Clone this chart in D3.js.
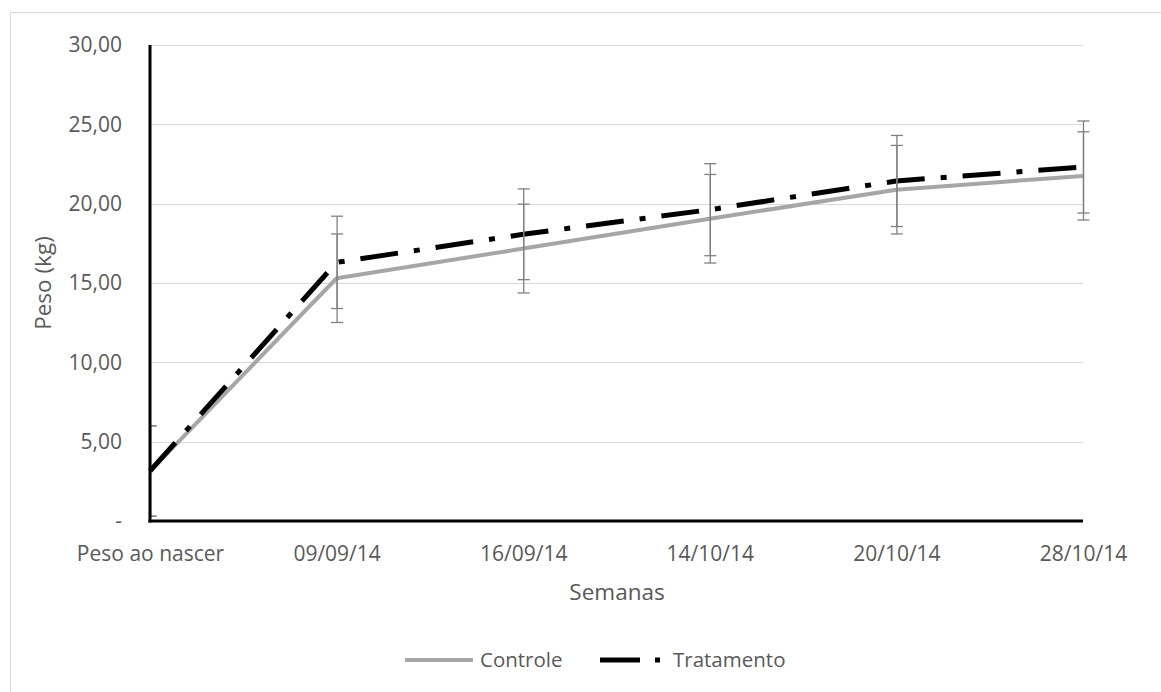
<!DOCTYPE html>
<html>
<head>
<meta charset="utf-8">
<script src="https://cdn.jsdelivr.net/npm/d3@7"></script>
<style>
  html, body { margin: 0; padding: 0; background: #fff; }
  svg { display: block; }
  text { font-family: "Open Sans", sans-serif; fill: #595959; }
</style>
</head>
<body>
<svg id="chart" width="1161" height="692"></svg>
<script>
const categories = ["Peso ao nascer", "09/09/14", "16/09/14", "14/10/14", "20/10/14", "28/10/14"];
const controle = [3.15, 15.30, 17.17, 19.05, 20.88, 21.75];
const tratamento = [3.15, 16.30, 18.07, 19.62, 21.43, 22.31];
const controleErr = [2.85, 2.79, 2.80, 2.79, 2.79, 2.78];
const tratamentoErr = [2.85, 2.91, 2.86, 2.90, 2.87, 2.90];
const yTicks = [0, 5, 10, 15, 20, 25, 30];
const seriesNames = ["Controle", "Tratamento"];

(function () {
const svg = d3.select("#chart");
const pLeft = 150, pRight = 1083, pTop = 45, pBottom = 521;

const x = d3.scalePoint().domain(categories).range([pLeft, pRight]).padding(0);
const y = d3.scaleLinear().domain([0, 30]).range([pBottom, pTop]);

const ptBR = d3.formatLocale({decimal: ",", thousands: ".", grouping: [3], currency: ["R$", ""]});
const fmt = ptBR.format(".2f");

// chart border
svg.append("rect").attr("x", 10.5).attr("y", 12.5).attr("width", 1200).attr("height", 800)
  .attr("fill", "none").attr("stroke", "#d9d9d9").attr("stroke-width", 1);

// gridlines
svg.append("g").selectAll("line").data(yTicks.filter(d => d > 0)).join("line")
  .attr("x1", pLeft).attr("x2", pRight)
  .attr("y1", d => Math.round(y(d)) + 0.5).attr("y2", d => Math.round(y(d)) + 0.5)
  .attr("stroke", "#d9d9d9").attr("stroke-width", 1);

// y axis labels
const yAxis = d3.axisLeft(y).tickValues(yTicks).tickSize(0).tickPadding(28)
  .tickFormat(d => d === 0 ? "-" : fmt(d));
const gy = svg.append("g").attr("transform", `translate(${pLeft},0)`).call(yAxis);
gy.select(".domain").remove();
gy.selectAll("text").attr("font-size", 21).attr("font-family", "Open Sans").attr("fill", "#595959");

// x axis labels
const xAxis = d3.axisBottom(x).tickSize(0).tickPadding(25);
const gx = svg.append("g").attr("transform", `translate(0,${pBottom})`).call(xAxis);
gx.select(".domain").remove();
gx.selectAll("text").attr("font-size", 21).attr("font-family", "Open Sans").attr("fill", "#595959");

// axis titles
svg.append("text").attr("x", 617).attr("y", 600).attr("text-anchor", "middle")
  .attr("font-size", 22.5).text("Semanas");
svg.append("text").attr("transform", "translate(51,283) rotate(-90)").attr("text-anchor", "middle")
  .attr("font-size", 22.5).text("Peso (kg)");

// clip for plot
svg.append("clipPath").attr("id", "plotclip").append("rect")
  .attr("x", pLeft).attr("y", 0).attr("width", pRight - pLeft + 20).attr("height", 692);

const line = d3.line().x((d, i) => x(categories[i])).y(d => y(d));

const plot = svg.append("g");

// series lines
plot.append("path").datum(controle).attr("d", line)
  .attr("fill", "none").attr("stroke", "#a6a6a6").attr("stroke-width", 4).attr("stroke-linejoin", "round");
plot.append("path").datum(tratamento).attr("d", line)
  .attr("fill", "none").attr("stroke", "#000").attr("stroke-width", 5)
  .attr("stroke-dasharray", "38,16,6,16").attr("stroke-linejoin", "round");

// error bars
const eb = plot.append("g").attr("clip-path", "url(#plotclip)");
function errBars(vals, errs) {
  vals.forEach((v, i) => {
    const cx = x(categories[i]) + 0.5;
    const y1 = y(v + errs[i]), y0 = y(v - errs[i]);
    eb.append("line").attr("x1", cx).attr("x2", cx).attr("y1", y1).attr("y2", y0)
      .attr("stroke", "#808080").attr("stroke-width", 1.3);
    [y1, y0].forEach(yy => {
      eb.append("line").attr("x1", cx - 6).attr("x2", cx + 6).attr("y1", yy).attr("y2", yy)
        .attr("stroke", "#808080").attr("stroke-width", 1.3);
    });
  });
}
errBars(controle, controleErr);
errBars(tratamento, tratamentoErr);

// axes lines
svg.append("line").attr("x1", pLeft).attr("x2", pLeft).attr("y1", pTop).attr("y2", pBottom + 1.5)
  .attr("stroke", "#000").attr("stroke-width", 3);
svg.append("line").attr("x1", pLeft - 1.5).attr("x2", pRight).attr("y1", pBottom).attr("y2", pBottom)
  .attr("stroke", "#000").attr("stroke-width", 3);

// legend
const lg = svg.append("g");
lg.append("line").attr("x1", 405).attr("x2", 473).attr("y1", 660).attr("y2", 660)
  .attr("stroke", "#a6a6a6").attr("stroke-width", 4);
lg.append("text").attr("x", 480).attr("y", 667).attr("font-size", 20.5).text(seriesNames[0]);
lg.append("line").attr("x1", 600).attr("x2", 660).attr("y1", 660).attr("y2", 660)
  .attr("stroke", "#000").attr("stroke-width", 5).attr("stroke-dasharray", "40,15,5,100");
lg.append("text").attr("x", 673).attr("y", 667).attr("font-size", 20.5).text(seriesNames[1]);
})();
</script>
</body>
</html>
